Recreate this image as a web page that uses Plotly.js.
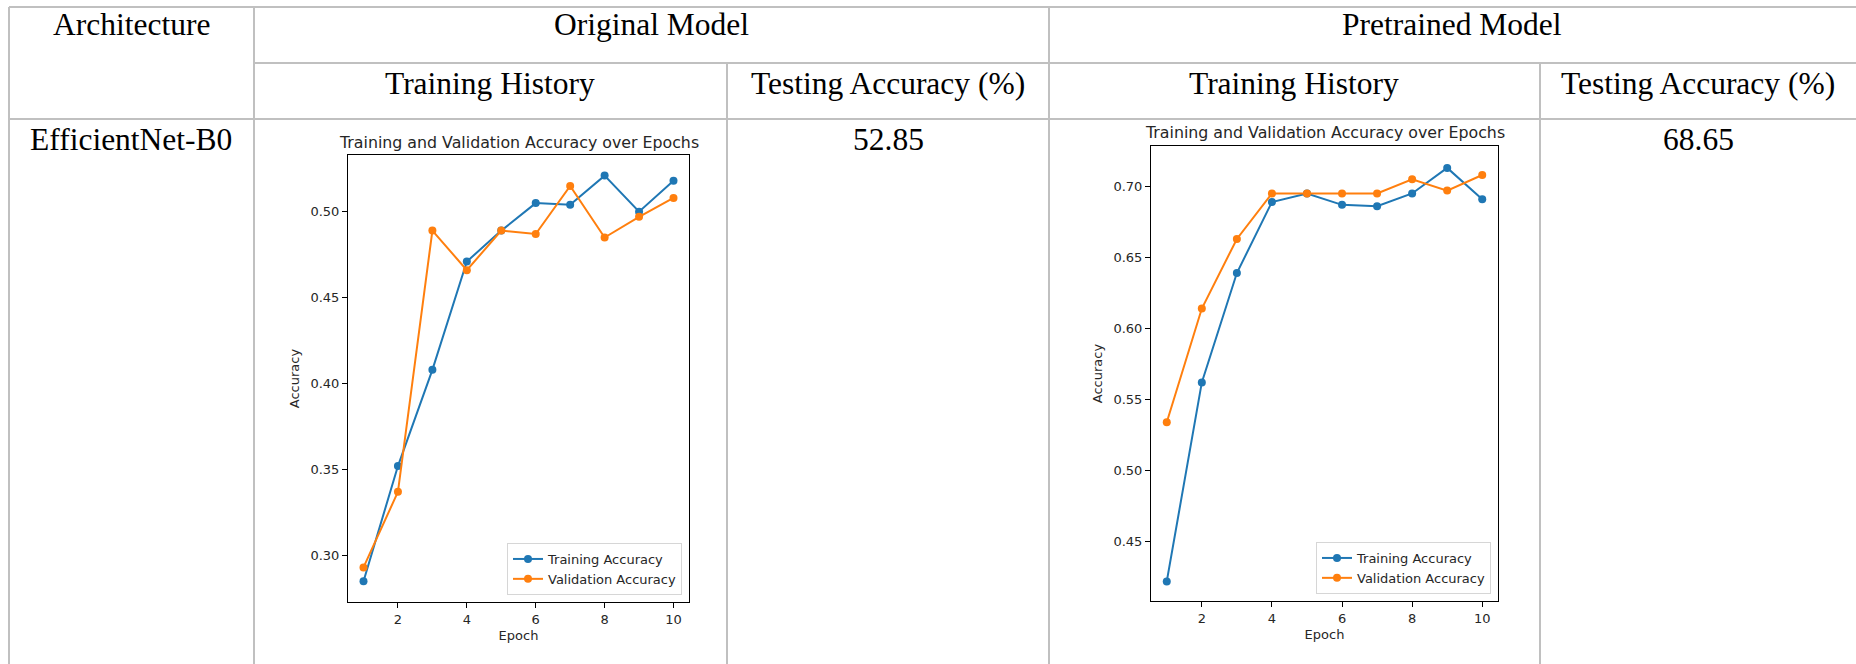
<!DOCTYPE html>
<html><head><meta charset="utf-8">
<script src="https://cdn.plot.ly/plotly-3.0.1.min.js"></script>
<style>html,body{margin:0;padding:0;background:#fff;overflow:hidden;}#chart{width:1856px;height:664px;}</style>
</head><body><div id="chart"></div>
<script>
// ---- data ----
const epochs = [1, 2, 3, 4, 5, 6, 7, 8, 9, 10];
const originalTrain = [0.285, 0.352, 0.408, 0.471, 0.489, 0.505, 0.504, 0.521, 0.500, 0.518];
const originalVal   = [0.293, 0.337, 0.489, 0.466, 0.489, 0.487, 0.515, 0.485, 0.497, 0.508];
const pretrainedTrain = [0.422, 0.562, 0.639, 0.689, 0.695, 0.687, 0.686, 0.695, 0.713, 0.691];
const pretrainedVal   = [0.534, 0.614, 0.663, 0.695, 0.695, 0.695, 0.695, 0.705, 0.697, 0.708];
const xTicks = [2, 4, 6, 8, 10];
const originalYTicks = [0.30, 0.35, 0.40, 0.45, 0.50];
const pretrainedYTicks = [0.45, 0.50, 0.55, 0.60, 0.65, 0.70];
const seriesNames = ['Training Accuracy', 'Validation Accuracy'];
const chartTitle = 'Training and Validation Accuracy over Epochs';
const xLabel = 'Epoch';
const yLabel = 'Accuracy';
const headerRow1 = ['Architecture', 'Original Model', 'Pretrained Model'];
const headerRow2 = ['Training History', 'Testing Accuracy (%)', 'Training History', 'Testing Accuracy (%)'];
const architectures = ['EfficientNet-B0'];
const testAccOriginal = [52.85];
const testAccPretrained = [68.65];

// ---- layout helpers ----
const W = 1856, H = 664;
const px = x => x / W;
const py = y => 1 - y / H;
const BLUE = '#1f77b4', ORANGE = '#ff7f0e';
const MPL_FONT = 'DejaVu Sans, Verdana, sans-serif';
const SERIF = 'Liberation Serif, Times New Roman, serif';
const INK = '#262626';

function trace(y, name, color, xa, ya, leg) {
  return {
    x: epochs, y: y, name: name, type: 'scatter', mode: 'lines+markers',
    xaxis: xa, yaxis: ya, legend: leg,
    line: {color: color, width: 2},
    marker: {color: color, size: 8}
  };
}
const data = [
  trace(originalTrain, seriesNames[0], BLUE, 'x', 'y', 'legend'),
  trace(originalVal, seriesNames[1], ORANGE, 'x', 'y', 'legend'),
  trace(pretrainedTrain, seriesNames[0], BLUE, 'x2', 'y2', 'legend2'),
  trace(pretrainedVal, seriesNames[1], ORANGE, 'x2', 'y2', 'legend2')
];

function xAxis(d0, d1, anchor) {
  return {
    domain: [px(d0), px(d1)], anchor: anchor, range: [0.55, 10.45],
    tickvals: xTicks, ticks: 'outside', ticklen: 5, tickwidth: 1, tickcolor: '#000',
    showline: true, linecolor: '#000', linewidth: 1, mirror: true,
    showgrid: false, zeroline: false,
    tickfont: {family: MPL_FONT, size: 13, color: INK},
    title: {text: xLabel, font: {family: MPL_FONT, size: 13, color: INK}, standoff: 5}
  };
}
function yAxis(top, bottom, range, ticks, anchor) {
  return {
    domain: [py(bottom), py(top)], anchor: anchor, range: range,
    tickvals: ticks, tickformat: '.2f', ticks: 'outside', ticklen: 5, tickwidth: 1, tickcolor: '#000',
    showline: true, linecolor: '#000', linewidth: 1, mirror: true,
    showgrid: false, zeroline: false,
    tickfont: {family: MPL_FONT, size: 13, color: INK},
    title: {text: yLabel, font: {family: MPL_FONT, size: 13, color: INK}, standoff: 7}
  };
}

// table grid lines
const GRID = '#c0c0c0';
function hline(y, x0, x1) {
  return {type: 'line', xref: 'paper', yref: 'paper', x0: px(x0), x1: px(x1), y0: py(y), y1: py(y),
          line: {color: GRID, width: 2}, layer: 'below'};
}
function vline(x, y0, y1) {
  return {type: 'line', xref: 'paper', yref: 'paper', x0: px(x), x1: px(x), y0: py(y0), y1: py(y1),
          line: {color: GRID, width: 2}, layer: 'below'};
}
const shapes = [
  hline(7, 9, W), hline(63, 254, W), hline(119, 9, W),
  vline(9, 7, H), vline(254, 7, H), vline(727, 63, H), vline(1049, 7, H), vline(1540, 63, H)
];

function cellText(text, cx, cy) {
  return {text: text, xref: 'paper', yref: 'paper', x: px(cx), y: py(cy),
          xanchor: 'center', yanchor: 'middle', showarrow: false,
          font: {family: SERIF, size: 31.5, color: '#000'}};
}
function plotTitle(cx, cy) {
  return {text: chartTitle, xref: 'paper', yref: 'paper', x: px(cx), y: py(cy),
          xanchor: 'center', yanchor: 'middle', showarrow: false,
          font: {family: MPL_FONT, size: 15.8, color: INK}};
}
const annotations = [
  cellText(headerRow1[0], 131, 24.5),
  cellText(headerRow1[1], 651, 24.5),
  cellText(headerRow1[2], 1452, 24.5),
  cellText(headerRow2[0], 490, 83.5),
  cellText(headerRow2[1], 888, 83.5),
  cellText(headerRow2[2], 1294, 83.5),
  cellText(headerRow2[3], 1698, 83.5),
  cellText(architectures[0], 131, 139.5),
  cellText(testAccOriginal[0].toFixed(2), 888, 139.5),
  cellText(testAccPretrained[0].toFixed(2), 1698, 139.5),
  plotTitle(518.5, 142),
  plotTitle(1324.5, 132)
];

function legendBox(right, bottom) {
  return {x: px(right), y: py(bottom), xanchor: 'right', yanchor: 'bottom',
          bgcolor: 'rgba(255,255,255,0.8)', bordercolor: '#d6d6d6', borderwidth: 1,
          font: {family: MPL_FONT, size: 13, color: INK}, itemwidth: 30, tracegroupgap: 0};
}

const layout = {
  width: W, height: H, margin: {l: 0, r: 0, t: 0, b: 0},
  paper_bgcolor: '#fff', plot_bgcolor: '#fff',
  showlegend: true,
  xaxis: xAxis(348, 689, 'y'),
  yaxis: yAxis(155, 602, [0.2729, 0.5330], originalYTicks, 'x'),
  xaxis2: xAxis(1151, 1498, 'y2'),
  yaxis2: yAxis(146, 601, [0.4082, 0.7284], pretrainedYTicks, 'x2'),
  legend: legendBox(682, 595),
  legend2: legendBox(1491, 594),
  shapes: shapes,
  annotations: annotations
};

Plotly.newPlot('chart', data, layout, {displayModeBar: false, staticPlot: true});
</script>
</body></html>
